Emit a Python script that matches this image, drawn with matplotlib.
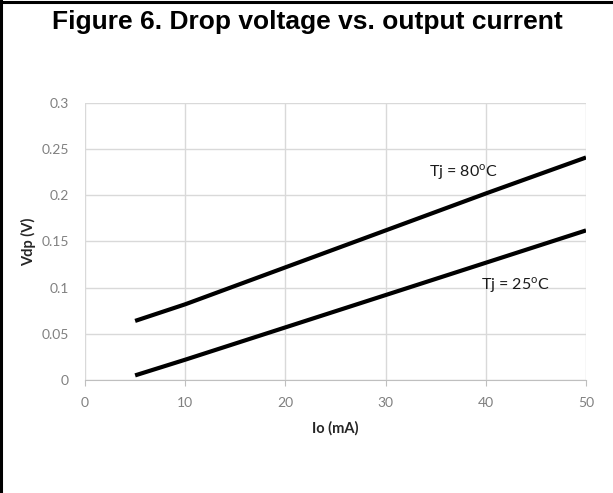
import matplotlib
matplotlib.use("Agg")
import matplotlib.pyplot as plt
from matplotlib.lines import Line2D

plt.rcParams['font.family'] = ['Lato', 'DejaVu Sans']
plt.rcParams['mathtext.fontset'] = 'custom'
plt.rcParams['mathtext.rm'] = 'Lato'

# Drop voltage readings (V) at output current (mA)
IO_MA = [5, 10, 20, 30, 40, 50]
VDP_80C = [0.064, 0.082, 0.122, 0.162, 0.202, 0.241]
VDP_25C = [0.005, 0.022, 0.057, 0.092, 0.127, 0.162]

X_TICKS = [0, 10, 20, 30, 40, 50]
Y_TICKS = [0, 0.05, 0.1, 0.15, 0.2, 0.25, 0.3]
Y_TICK_LABELS = ["0", "0.05", "0.1", "0.15", "0.2", "0.25", "0.3"]

fig = plt.figure(figsize=(6.13, 4.93), dpi=100)
ax = fig.add_axes([0.1387, 0.2292, 0.9560 - 0.1387, 0.7911 - 0.2292])

ax.plot(IO_MA, VDP_80C, color="black", lw=3, solid_capstyle="butt")
ax.plot(IO_MA, VDP_25C, color="black", lw=3, solid_capstyle="butt")

ax.set_xlim(0, 50)
ax.set_ylim(0, 0.3)
ax.set_xticks(X_TICKS)
ax.set_yticks(Y_TICKS)
ax.set_yticklabels(Y_TICK_LABELS)

ax.grid(True, color="#d9d9d9", lw=1)
ax.set_axisbelow(True)
for side in ["top", "right", "left"]:
    ax.spines[side].set_visible(False)
ax.spines["bottom"].set_color("#bfbfbf")
ax.tick_params(axis="x", colors="#bfbfbf", labelcolor="#808080", length=4, pad=8, labelsize=10)
ax.tick_params(axis="y", length=0, labelcolor="#808080", pad=11.5, labelsize=10)

ax.set_xlabel("Io (mA)", fontsize=10.5, fontweight="bold", color="#262626", labelpad=9)
ax.set_ylabel("Vdp (V)", fontsize=10.5, fontweight="bold", color="#262626", labelpad=4)

ax.text(37.8, 0.225, "Tj = 80$^{\\mathrm{o}}$C", fontsize=11.5, color="#1a1a1a",
        ha="center", va="center")
ax.text(42.9, 0.103, "Tj = 25$^{\\mathrm{o}}$C", fontsize=11.5, color="#1a1a1a",
        ha="center", va="center")

fig.text(0.502, 0.955, "Figure 6. Drop voltage vs. output current", family="Liberation Sans",
         fontsize=19, fontweight="bold", ha="center", va="center")

# frame along the top and left edges
fig.add_artist(Line2D([0, 1], [0.995, 0.995], color="black", lw=2.2, transform=fig.transFigure))
fig.add_artist(Line2D([0.002, 0.002], [0, 1], color="black", lw=2.2, transform=fig.transFigure))

fig.savefig("out.png", dpi=100)
